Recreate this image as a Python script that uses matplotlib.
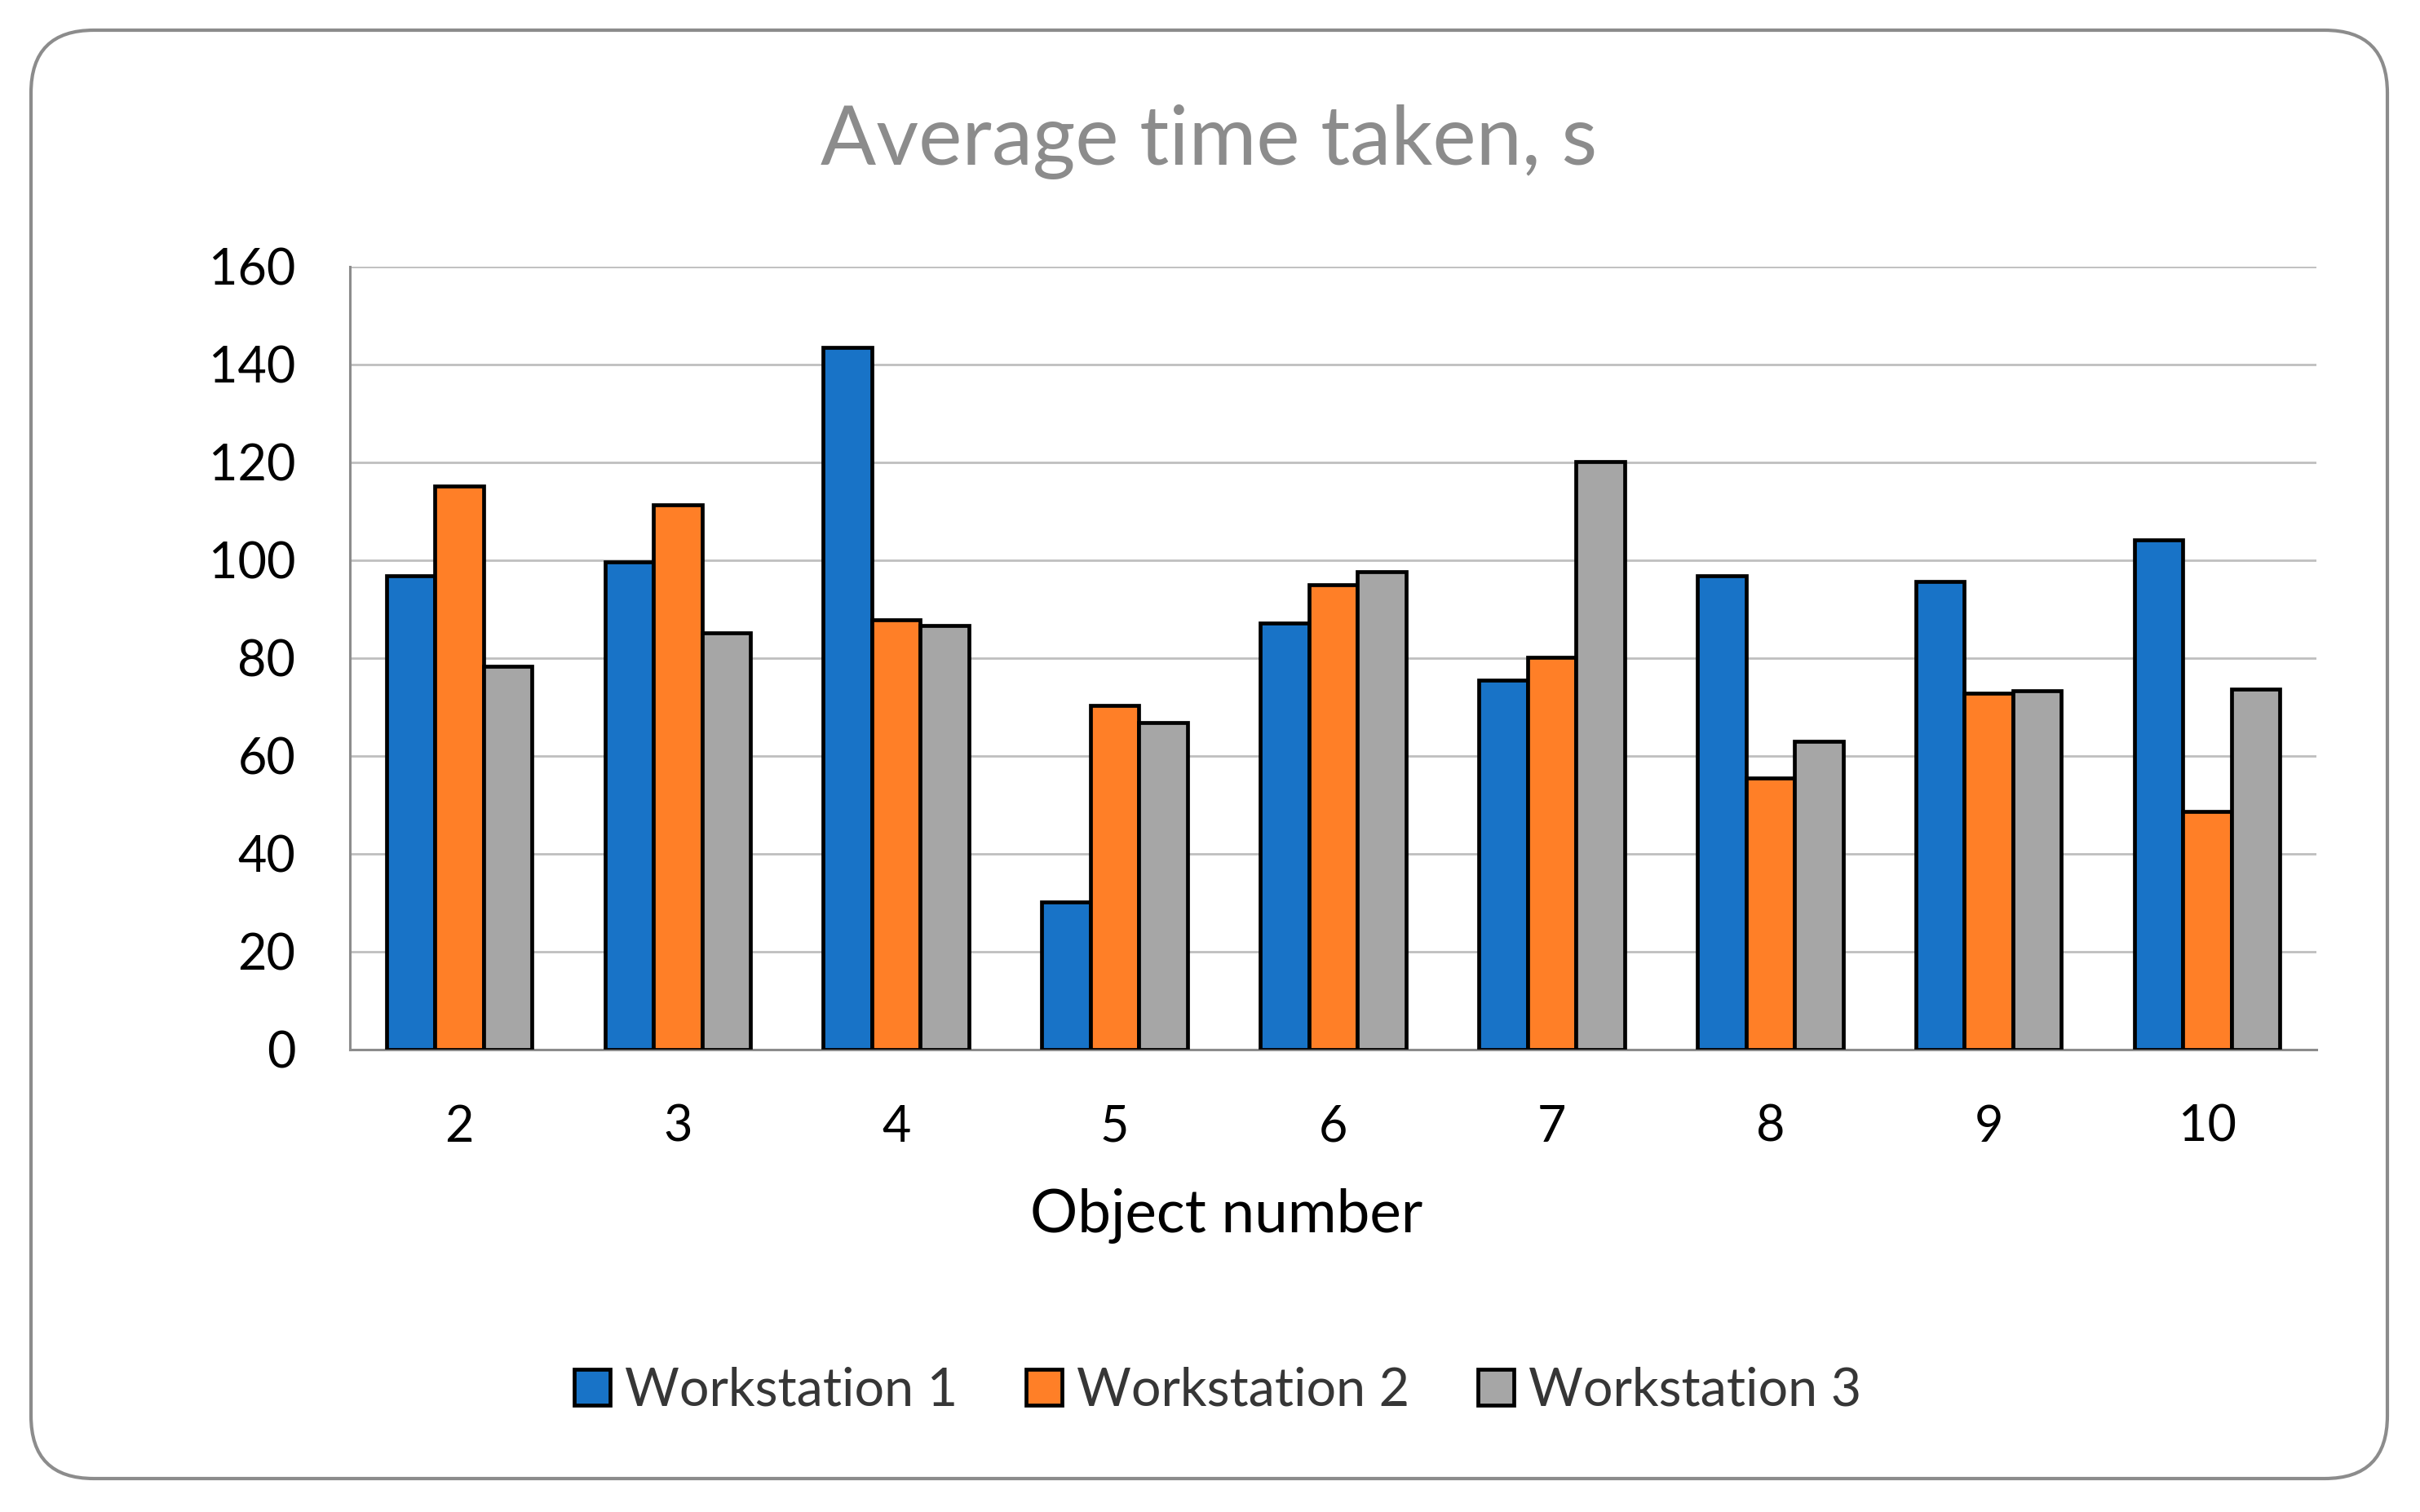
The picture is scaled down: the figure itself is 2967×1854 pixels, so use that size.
import matplotlib
matplotlib.use("Agg")
import matplotlib.pyplot as plt
import numpy as np
from matplotlib.patches import FancyBboxPatch
from matplotlib.transforms import IdentityTransform

categories = ["2", "3", "4", "5", "6", "7", "8", "9", "10"]
ws1 = [96.9, 99.6, 143.5, 30.1, 87.1, 75.5, 96.8, 95.6, 104.1]
ws2 = [115.2, 111.3, 87.9, 70.4, 95.0, 80.1, 55.5, 72.9, 48.7]
ws3 = [78.3, 85.2, 86.7, 66.9, 97.6, 120.1, 63.0, 73.3, 73.6]
series_names = ["Workstation 1", "Workstation 2", "Workstation 3"]
colors = ["#1873C7", "#FF7F27", "#A6A6A6"]
yticks = [0, 20, 40, 60, 80, 100, 120, 140, 160]

plt.rcParams['font.family'] = ['Lato', 'DejaVu Sans']

W, H = 2967, 1854
fig = plt.figure(figsize=(W / 100, H / 100), dpi=100)

# rounded outer border (pixel coords, origin bottom-left)
border = FancyBboxPatch((38, H - 1813), 2927 - 38, 1813 - 37,
                        boxstyle="round,pad=0,rounding_size=77",
                        transform=IdentityTransform(), facecolor="white",
                        edgecolor="#8C8C8C", linewidth=3, zorder=-10)
fig.patches.append(border)

ax = fig.add_axes([429 / W, 1 - 1287 / H, (2840 - 429) / W, (1287 - 327) / H])
ax.set_facecolor("none")

x = np.arange(len(categories))
bw = 1 / 4.5
for i, (vals, c, name) in enumerate(zip([ws1, ws2, ws3], colors, series_names)):
    ax.bar(x + (i - 1) * bw, vals, width=bw, color=c, edgecolor="black",
           linewidth=3.4, label=name, zorder=3)

ax.set_xlim(-0.5, len(categories) - 0.5)
ax.set_ylim(0, 160)
ax.set_yticks(yticks)
ax.set_xticks(x)
ax.set_xticklabels(categories)
ax.grid(axis="y", color="#BFBFBF", linewidth=2.0, zorder=0)
ax.set_axisbelow(True)
for s in ["top", "right"]:
    ax.spines[s].set_visible(False)
for s in ["left", "bottom"]:
    ax.spines[s].set_color("#8C8C8C")
    ax.spines[s].set_linewidth(2.2)
ax.tick_params(axis="both", length=0, labelsize=44, colors="black")
ax.tick_params(axis="y", pad=48)
ax.tick_params(axis="x", pad=48)

fig.text(1482 / W, 1 - 174 / H, "Average time taken, s", ha="center", va="center",
         fontsize=72.5, color="#8C8C8C")
fig.text(1504 / W, 1 - 1491 / H, "Object number", ha="center", va="center",
         fontsize=52.5, color="black")

leg = fig.legend(loc="center", bbox_to_anchor=(1493 / W, 1 - 1705 / H), ncol=3,
                 frameon=False, fontsize=46.5, handlelength=0.68, handleheight=0.68,
                 handletextpad=0.28, columnspacing=1.3)
for t in leg.get_texts():
    t.set_color("#363636")

fig.savefig("out.png", dpi=100)
